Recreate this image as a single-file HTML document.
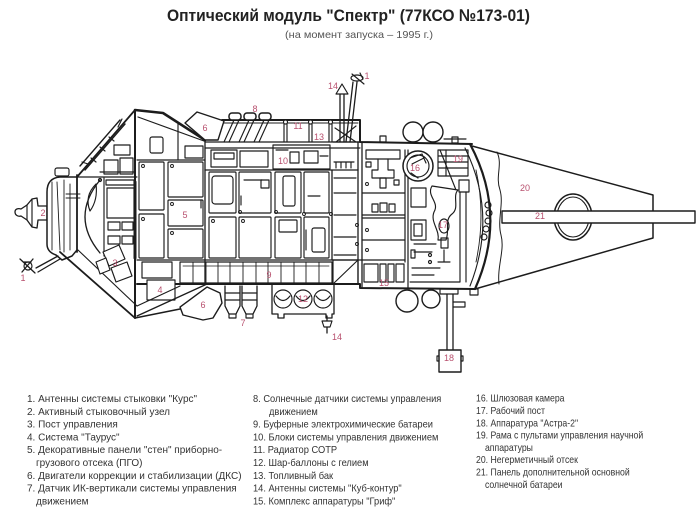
<!DOCTYPE html>
<html><head><meta charset="utf-8"><style>
html,body{margin:0;padding:0;background:#fff;}
svg{display:block;}
</style></head><body>
<svg xmlns="http://www.w3.org/2000/svg" width="700" height="508" viewBox="0 0 700 508">
<rect width="700" height="508" fill="#fff"/>
<text x="167" y="21" font-family="Liberation Sans, sans-serif" font-weight="bold" font-size="17" fill="#222" textLength="363" lengthAdjust="spacingAndGlyphs">Оптический модуль "Спектр" (77КСО №173-01)</text>
<text x="285" y="38" font-family="Liberation Sans, sans-serif" font-size="10.5" fill="#555" textLength="148" lengthAdjust="spacingAndGlyphs">(на момент запуска – 1995 г.)</text>

<g fill="none" stroke="#1c1c1c" stroke-width="1.15" stroke-linejoin="round" stroke-linecap="round">
<!-- cone 20 & rod 21 -->
<path d="M472,146 L653,195 L653,238 L475,289" stroke-width="1.5"/>
<path d="M497,152 C503,165 495,176 500,190 C504,204 497,220 501,235 C505,250 497,266 499,284" stroke-width="1"/>
<ellipse cx="573" cy="217" rx="19" ry="23" stroke-width="1.5"/>
<ellipse cx="573" cy="217" rx="16" ry="20" stroke-width="1.1"/>
<rect x="502" y="211" width="193" height="12" fill="#fff" stroke-width="1.4"/>

<!-- right pressurized section back -->
<path d="M470,144 Q508,215 475,289" stroke-width="2.2" fill="#fff"/>
<path d="M465,148 Q498,215 470,286" stroke-width="1.1"/>
<path d="M476,170 Q486,215 476,262" stroke-width="0.9"/>
<circle cx="488" cy="205" r="3"/><circle cx="489" cy="213" r="3"/><circle cx="488" cy="221" r="3"/><circle cx="486" cy="229" r="3"/><circle cx="484" cy="237" r="3"/>

<!-- docking probe (2) -->
<path d="M15,212 C15,209 18,208 21,209 L27,205 L32,199 L37,198 L38,206 L47,206 L47,220 L38,220 L37,228 L32,227 L27,220 L21,216 C18,217 15,215 15,212 Z" fill="#fff" stroke-width="1.3"/>
<path d="M32,199 L32,227 M27,205 L27,220"/>
<!-- docking housing -->
<path d="M77,177 L60,177 Q47,178 47,192 L47,244 Q47,252 56,255 L62,260 L72,256 L77,250" stroke-width="1.5" fill="#fff"/>
<rect x="55" y="168" width="14" height="8" rx="2" fill="#fff"/>
<path d="M52,182 L52,250 M57,182 L60,250 M64,180 L64,252 M70,184 L70,250" stroke-width="0.9"/>
<path d="M66,194 L80,194 M66,198 L80,198" stroke-width="0.9"/>
<path d="M77,175 L77,252" stroke-width="1.8"/>
<!-- antenna 1 lower-left -->
<path d="M36,268 L58,256 M38,272 L60,259" stroke-width="1.3"/>
<circle cx="28" cy="266" r="4" fill="#fff"/>
<path d="M20,259 L35,273 M22,272 L33,259 M24,262 L31,262" stroke-width="1.3"/>

<!-- left cone -->
<path d="M77,177 L135,110" stroke-width="1.8"/>
<path d="M60,252 L135,318" stroke-width="1.8"/>
<path d="M78,250 L137,306" stroke-width="1.1"/>
<path d="M77,177 L137,177"/>
<path d="M100,180 Q70,217 100,253" stroke-width="1.3"/>
<path d="M96,184 Q84,196 90,211 Q98,200 96,184 Z"/>
<circle cx="100" cy="180" r="1.5"/>
<path d="M104,178 L104,256" />
<rect x="106" y="180" width="28" height="5"/>
<rect x="107" y="188" width="27" height="30"/>
<rect x="108" y="222" width="12" height="8"/><rect x="122" y="222" width="11" height="8"/>
<rect x="108" y="236" width="12" height="8"/><rect x="122" y="236" width="11" height="8"/>
<path d="M135,182 L135,258" stroke-width="3"/>
<polygon points="103,252 119,245 125,259 109,266" fill="#fff"/>
<polygon points="111,268 127,262 132,276 116,282" fill="#fff"/>
<polygon points="96,262 106,258 110,270 100,274" fill="#fff"/>
<!-- equipment near cone top -->
<rect x="114" y="145" width="16" height="10"/>
<rect x="104" y="160" width="14" height="14"/>
<rect x="120" y="158" width="13" height="16"/>
<path d="M100,172 L134,172"/>
<!-- boom upper-left -->
<path d="M80,166 L120,120 M85,170 L125,124" stroke-width="1.4"/>
<path d="M91,158 L96,162 M100,147 L105,151 M109,137 L114,141 M88,164 L82,162 M118,127 L122,119"/>

<!-- main hull left vertical & top -->
<path d="M135,110 L135,318" stroke-width="2"/>
<path d="M135,110 L163,113 L205,140" stroke-width="2.6"/>
<path d="M138,117 L204,141"/>
<path d="M178,124 L178,160"/>
<rect x="150" y="137" width="13" height="16" rx="2"/>
<rect x="185" y="146" width="18" height="12"/>
<path d="M137,160 L205,160"/>
<polygon points="185,123 197,112 224,121 218,140 205,140" fill="#fff" stroke-width="1.4"/>
<path d="M222,120 L360,120 L360,142 L472,144" stroke-width="2"/>
<path d="M224,123 L358,123" stroke-width="0.9"/>
<!-- solar sensors 8 -->
<rect x="229" y="113" width="12" height="7" rx="3" fill="#fff" stroke-width="1.5"/>
<rect x="244" y="113" width="12" height="7" rx="3" fill="#fff" stroke-width="1.5"/>
<rect x="259" y="113" width="12" height="7" rx="3" fill="#fff" stroke-width="1.5"/>
<path d="M234,120 L224,142 M239,120 L229,142 M249,120 L239,142 M254,120 L244,142 M264,120 L254,142 M269,120 L259,142"/>
<!-- radiator ribs -->
<path d="M284,123 L284,142 M287,123 L287,142 M309,123 L309,142 M312,123 L312,142 M329,123 L329,142 M332,123 L332,142"/>
<circle cx="285.5" cy="122" r="2" fill="#fff"/><circle cx="310.5" cy="122" r="2" fill="#fff"/><circle cx="330.5" cy="122" r="2" fill="#fff"/>
<!-- deck -->
<path d="M205,142 L360,142" stroke-width="1.3"/>
<path d="M205,148 L360,148"/>
<rect x="211" y="150" width="26" height="17"/>
<rect x="214" y="153" width="20" height="6"/>
<rect x="240" y="151" width="28" height="16"/>
<rect x="273" y="145" width="57" height="24"/>
<rect x="290" y="152" width="9" height="11"/>
<rect x="304" y="151" width="14" height="12"/>
<path d="M276,150 L288,150 M320,156 L328,156"/>
<path d="M336,162 L336,168 M341,162 L341,168 M346,162 L346,168 M351,162 L351,168 M334,162 L354,162"/>
<!-- masts -->
<path d="M340,90 L340,142 M344,90 L344,142" stroke-width="1.3"/>
<polygon points="336,94 348,94 342,84" fill="#fff"/>
<path d="M353,82 L346,142 M357,82 L350,142" stroke-width="1.3"/>
<ellipse cx="357" cy="78" rx="6" ry="3" fill="#fff"/>
<path d="M352,74 L364,84 M360,73 L363,79"/>
<path d="M335,128 L356,142 M356,126 L336,142 M333,142 L360,142"/>

<!-- panels area -->
<path d="M205,140 L205,284" stroke-width="1.3"/>
<path d="M137,260 L405,260" stroke-width="1.3"/>
<path d="M205,170 L358,170" stroke-width="1.3"/>
<rect x="139" y="162" width="25" height="48" rx="1"/>
<rect x="139" y="214" width="25" height="44" rx="1"/>
<rect x="168" y="162" width="35" height="35" rx="1"/>
<rect x="168" y="200" width="35" height="26" rx="1"/>
<rect x="168" y="229" width="35" height="29" rx="1"/>
<rect x="209" y="172" width="27" height="41" rx="1"/>
<rect x="209" y="217" width="27" height="41" rx="1"/>
<rect x="239" y="172" width="32" height="41" rx="1"/>
<rect x="239" y="217" width="32" height="41" rx="1"/>
<rect x="275" y="172" width="26" height="41" rx="1"/>
<rect x="275" y="217" width="26" height="41" rx="1"/>
<rect x="304" y="172" width="25" height="41" rx="1"/>
<rect x="304" y="217" width="25" height="41" rx="1"/>
<rect x="212" y="176" width="21" height="28" rx="3"/>
<rect x="283" y="176" width="12" height="30" rx="2"/>
<rect x="279" y="220" width="18" height="12" rx="1"/>
<rect x="312" y="228" width="13" height="24" rx="2"/>
<path d="M244,180 L262,180 M308,196 L320,196 M306,230 L306,250 M241,196 L241,205 M201,200 L201,208"/>
<rect x="261" y="180" width="8" height="8"/>
<path d="M332,170 L332,260 M358,142 L358,284" stroke-width="1.3"/>
<path d="M334,178 L356,178 M334,193 L356,193 M334,215 L356,215 M334,237 L356,237 M334,255 L356,255"/>
<path d="M362,142 L362,288" stroke-width="1.3"/>
<path d="M362,193 L405,193 M362,215 L405,215 M362,218 L405,218 M362,240 L405,240"/>
<path d="M405,150 L405,262 M408,150 L408,288" stroke-width="1.2"/>
<g stroke-width="0.9">
<circle cx="143" cy="166" r="1.5"/><circle cx="143" cy="219" r="1.5"/><circle cx="172" cy="166" r="1.5"/><circle cx="172" cy="204" r="1.5"/><circle cx="172" cy="233" r="1.5"/>
<circle cx="213" cy="221" r="1.5"/><circle cx="243" cy="221" r="1.5"/><circle cx="240" cy="212" r="1.5"/><circle cx="276" cy="212" r="1.5"/>
<circle cx="304" cy="214" r="1.5"/><circle cx="331" cy="214" r="1.5"/><circle cx="357" cy="225" r="1.5"/><circle cx="357" cy="244" r="1.5"/>
<circle cx="367" cy="230" r="1.5"/><circle cx="367" cy="250" r="1.5"/><circle cx="367" cy="184" r="1.5"/>
</g>
<!-- right section interior -->
<rect x="366" y="150" width="34" height="9"/>
<path d="M378,159 L378,170 L372,170 L372,178 L394,178 L394,170 L388,170 L388,159"/>
<rect x="380" y="178" width="6" height="10"/>
<rect x="366" y="162" width="5" height="5"/>
<rect x="394" y="180" width="5" height="5"/>
<rect x="372" y="204" width="6" height="8"/><rect x="380" y="203" width="7" height="9"/><rect x="389" y="204" width="6" height="8"/>
<circle cx="418" cy="166" r="15" stroke-width="1.5" fill="#fff"/>
<circle cx="418" cy="166" r="11"/>
<path d="M410,158 L422,154 L426,163 M412,164 L424,158 M411,173 L418,178"/>
<rect x="438" y="150" width="30" height="26"/>
<path d="M438,156 L468,156 M438,162 L468,162 M438,168 L468,168 M446,150 L446,176"/>
<path d="M440,150 L456,190"/>
<rect x="411" y="188" width="15" height="19"/>
<rect x="411" y="220" width="15" height="20"/>
<rect x="414" y="224" width="8" height="12"/>
<path d="M432,186 C426,196 440,202 434,212 C430,222 440,230 438,240 L446,240 C450,230 444,220 452,214 C460,208 452,196 458,190 Z" fill="#fff"/>
<ellipse cx="444" cy="226" rx="5" ry="7"/>
<rect x="441" y="238" width="7" height="10"/>
<path d="M444,250 L444,262 M438,262 L450,262"/>
<rect x="459" y="180" width="10" height="12"/>
<path d="M460,192 L460,282 M466,192 L466,282"/>
<path d="M414,244 L436,244 M414,252 L432,252 M412,268 L440,268 M412,275 L434,275 M410,282 L460,282"/>
<rect x="411" y="250" width="4" height="8"/>
<circle cx="430" cy="255" r="1.5"/><circle cx="430" cy="262" r="1.5"/>
<!-- top objects right -->
<circle cx="413" cy="132" r="10" fill="#fff" stroke-width="1.4"/>
<circle cx="433" cy="132" r="10" fill="#fff" stroke-width="1.4"/>
<rect x="380" y="136" width="6" height="6"/>
<rect x="452" y="137" width="6" height="6"/>
<path d="M444,139 L466,139"/>

<!-- bottom band 9 -->
<rect x="180" y="262" width="152" height="21"/>
<path d="M193,262 L193,283 M206,262 L206,283 M218,262 L218,283 M230,262 L230,283 M243,262 L243,283 M256,262 L256,283 M268,262 L268,283 M281,262 L281,283 M294,262 L294,283 M306,262 L306,283 M319,262 L319,283" stroke-width="0.9"/>
<path d="M183,266 L329,266" stroke-width="0.8"/>
<rect x="333" y="260" width="25" height="24"/>
<path d="M333,284 L358,260"/>
<rect x="364" y="264" width="14" height="18"/><rect x="380" y="264" width="6" height="18"/><rect x="388" y="264" width="6" height="18"/><rect x="396" y="264" width="8" height="18"/>
<path d="M137,284 L360,284 L360,288 L475,289" stroke-width="2"/>
<!-- region 4 / lower left -->
<rect x="142" y="262" width="30" height="16"/>
<rect x="147" y="280" width="28" height="20" fill="#fff"/>
<path d="M137,316 L207,284" stroke-width="1.3"/>
<path d="M137,306 L180,286"/>
<polygon points="180,307 207,287 220,293 222,303 213,318 203,320 183,315" fill="#fff" stroke-width="1.4"/>
<path d="M135,318 L180,309" stroke-width="1.5"/>
<!-- 7 -->
<path d="M225,286 L225,306 L229,314 L236,314 L240,306 L240,286 M242,286 L242,306 L246,314 L253,314 L257,306 L257,286" fill="#fff" stroke-width="1.3"/>
<path d="M225,293 L240,293 M225,300 L240,300 M242,293 L257,293 M242,300 L257,300 M229,314 L229,318 L236,318 L236,314 M246,314 L246,318 L253,318 L253,314"/>
<!-- 12 -->
<path d="M272,285 L272,314 L278,314 L278,318 L284,318 L284,314 L326,314 L326,318 L332,318 L332,314 L334,314 L334,285" stroke-width="1.3"/>
<circle cx="283" cy="299" r="9"/><circle cx="303" cy="299" r="9"/><circle cx="323" cy="299" r="9"/>
<path d="M276,296 Q283,305 290,296 M296,296 Q303,305 310,296 M316,296 Q323,305 330,296"/>
<!-- bottom antenna 14 -->
<path d="M327,316 L327,333" stroke-width="1.3"/>
<polygon points="322,321 332,321 330,327 324,327" fill="#fff"/>
<!-- right bottom -->
<circle cx="407" cy="301" r="11" fill="#fff" stroke-width="1.4"/>
<circle cx="431" cy="299" r="9" fill="#fff" stroke-width="1.4"/>
<rect x="470" y="289" width="8" height="6"/>
<rect x="440" y="289" width="18" height="5"/>
<path d="M447,294 L447,350 M453,294 L453,350" stroke-width="1.3"/>
<path d="M453,302 L465,302 L465,307 L453,307"/>
<rect x="439" y="350" width="22" height="22" fill="#fff" stroke-width="1.4"/>
<rect x="437" y="356" width="2" height="5"/><rect x="461" y="356" width="2" height="5"/>
</g>

<!-- callout labels -->
<g font-family="Liberation Sans, sans-serif" font-size="9" fill="#b8506e" text-anchor="middle">
<text x="23" y="281">1</text>
<text x="43" y="216">2</text>
<text x="115" y="266">3</text>
<text x="160" y="293">4</text>
<text x="185" y="218">5</text>
<text x="205" y="131">6</text>
<text x="203" y="308">6</text>
<text x="243" y="326">7</text>
<text x="255" y="112">8</text>
<text x="269" y="278">9</text>
<text x="283" y="164">10</text>
<text x="298" y="129">11</text>
<text x="303" y="302">12</text>
<text x="319" y="140">13</text>
<text x="333" y="89">14</text>
<text x="367" y="79">1</text>
<text x="337" y="340">14</text>
<text x="384" y="286">15</text>
<text x="415" y="171">16</text>
<text x="443" y="228">17</text>
<text x="449" y="361">18</text>
<text x="458" y="162">19</text>
<text x="525" y="191">20</text>
<text x="540" y="219">21</text>
</g>

<!-- legend -->
<g font-family="Liberation Sans, sans-serif" font-size="10" fill="#333">
<text x="27" y="402">1. Антенны системы стыковки "Курс"</text>
<text x="27" y="414.8">2. Активный стыковочный узел</text>
<text x="27" y="427.6">3. Пост управления</text>
<text x="27" y="440.4">4. Система "Таурус"</text>
<text x="27" y="453.2">5. Декоративные панели "стен" приборно-</text>
<text x="36" y="466">грузового отсека (ПГО)</text>
<text x="27" y="478.8">6. Двигатели коррекции и стабилизации (ДКС)</text>
<text x="27" y="491.6">7. Датчик ИК-вертикали системы управления</text>
<text x="36" y="504.4">движением</text>
</g>
<g font-family="Liberation Sans, sans-serif" font-size="10" fill="#333" transform="translate(253,0) scale(0.93,1)">
<text x="0" y="402">8. Солнечные датчики системы управления</text>
<text x="17.2" y="414.8">движением</text>
<text x="0" y="427.6">9. Буферные электрохимические батареи</text>
<text x="0" y="440.4">10. Блоки системы управления движением</text>
<text x="0" y="453.2">11. Радиатор СОТР</text>
<text x="0" y="466">12. Шар-баллоны с гелием</text>
<text x="0" y="478.8">13. Топливный бак</text>
<text x="0" y="491.6">14. Антенны системы "Куб-контур"</text>
<text x="0" y="504.4">15. Комплекс аппаратуры "Гриф"</text>
</g>
<g font-family="Liberation Sans, sans-serif" font-size="10" fill="#333" transform="translate(476,0) scale(0.87,1)">
<text x="0" y="401.5">16. Шлюзовая камера</text>
<text x="0" y="414">17. Рабочий пост</text>
<text x="0" y="426.3">18. Аппаратура "Астра-2"</text>
<text x="0" y="438.6">19. Рама с пультами управления научной</text>
<text x="10.3" y="450.9">аппаратуры</text>
<text x="0" y="463.2">20. Негерметичный отсек</text>
<text x="0" y="475.5">21. Панель дополнительной основной</text>
<text x="10.3" y="487.8">солнечной батареи</text>
</g>
</svg>
</body></html>
